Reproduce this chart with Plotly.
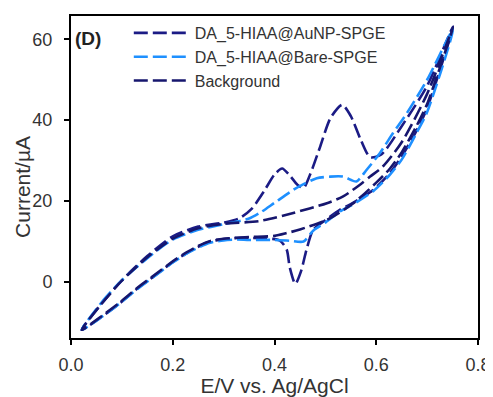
import plotly.graph_objects as go

# ---- data (E in V, I in µA), forward scan then reverse scan ----
auNP_E = [0.021, 0.06, 0.10, 0.15, 0.20, 0.25, 0.30, 0.33, 0.355, 0.38, 0.40, 0.415, 0.43, 0.445, 0.457,
          0.47, 0.49, 0.51, 0.533, 0.55, 0.57, 0.588, 0.61, 0.65, 0.70, 0.751,
          0.70, 0.68, 0.65, 0.627, 0.594, 0.55, 0.529, 0.50, 0.476, 0.463, 0.452, 0.441, 0.43, 0.424, 0.41,
          0.38, 0.35, 0.326, 0.30, 0.273, 0.25, 0.227, 0.20, 0.162, 0.13, 0.096, 0.06, 0.021]
auNP_I = [-12.0, -5.5, 0.3, 6.3, 11.2, 13.6, 14.6, 15.6, 18.0, 22.5, 26.5, 28.0, 26.3, 24.0, 23.2,
          26.5, 33.5, 40.5, 43.8, 41.0, 35.0, 30.8, 31.5, 38.5, 48.5, 63.2,
          43.0, 37.6, 31.0, 26.9, 22.7, 19.2, 17.8, 15.2, 12.8, 7.9, 2.5, -0.6, 3.5, 7.9, 10.2,
          10.7, 10.8, 10.8, 10.5, 9.9, 8.6, 7.0, 4.8, 1.2, -1.8, -5.4, -8.8, -12.0]

bare_E = [0.021, 0.06, 0.10, 0.15, 0.20, 0.25, 0.30, 0.35, 0.371, 0.40, 0.437, 0.46, 0.483, 0.51, 0.535,
          0.561, 0.58, 0.607, 0.633, 0.66, 0.70, 0.751,
          0.70, 0.68, 0.65, 0.627, 0.594, 0.55, 0.529, 0.50, 0.476, 0.457, 0.43, 0.40,
          0.35, 0.326, 0.30, 0.273, 0.25, 0.227, 0.20, 0.162, 0.13, 0.096, 0.06, 0.021]
bare_I = [-12.0, -5.2, 0.3, 5.8, 10.4, 12.8, 14.2, 15.6, 17.0, 19.5, 22.7, 24.3, 25.6, 26.0, 26.0,
          24.8, 27.5, 31.8, 36.8, 41.7, 50.0, 62.5,
          42.0, 37.0, 30.2, 26.5, 22.4, 18.8, 17.4, 14.6, 12.6, 9.9, 10.1, 10.3,
          10.3, 10.4, 10.2, 9.6, 8.4, 6.9, 4.7, 1.1, -1.9, -5.4, -8.8, -12.0]

bkg_E = [0.021, 0.06, 0.10, 0.15, 0.20, 0.25, 0.30, 0.371, 0.437, 0.503, 0.535, 0.568, 0.588, 0.613,
         0.65, 0.70, 0.751,
         0.70, 0.679, 0.65, 0.627, 0.60, 0.555, 0.503, 0.45, 0.424, 0.40, 0.35, 0.30, 0.273, 0.25,
         0.227, 0.20, 0.162, 0.13, 0.096, 0.06, 0.021]
bkg_I = [-12.0, -5.5, 0.2, 6.0, 10.6, 13.2, 14.3, 15.0, 17.0, 19.4, 21.1, 24.0, 26.0, 28.5,
         34.5, 46.5, 63.0,
         44.0, 38.5, 32.0, 28.0, 24.5, 19.4, 15.3, 12.9, 12.0, 11.3, 11.0, 10.6, 10.0, 8.8,
         7.2, 5.0, 1.4, -1.6, -5.2, -8.6, -12.0]

series_names = ["DA_5-HIAA@AuNP-SPGE", "DA_5-HIAA@Bare-SPGE", "Background"]
x_ticks = [0.0, 0.2, 0.4, 0.6, 0.8]
x_tick_labels = ["0.0", "0.2", "0.4", "0.6", "0.8"]
y_ticks = [0, 20, 40, 60]

navy = "#1b1b85"
light = "#1e90ff"
navy2 = "#16166e"

fig = go.Figure()
for E, I, name, col in [(auNP_E, auNP_I, series_names[0], navy),
                        (bare_E, bare_I, series_names[1], light),
                        (bkg_E, bkg_I, series_names[2], navy2)]:
    fig.add_trace(go.Scatter(
        x=E, y=I, name=name, mode="lines",
        line=dict(color=col, width=2.6, dash="14px,5px", shape="spline", smoothing=0.7),
    ))

axis_common = dict(
    showline=True, linecolor="black", linewidth=2, mirror=True,
    ticks="outside", ticklen=5, tickwidth=2, tickcolor="black",
    showgrid=False, zeroline=False, automargin=False,
    tickfont=dict(family="Liberation Sans, Arial, sans-serif", size=18, color="#333"),
)

fig.update_layout(
    width=485, height=389,
    margin=dict(l=63, r=15, t=8, b=59),
    paper_bgcolor="white", plot_bgcolor="white",
    font=dict(family="Liberation Sans, Arial, sans-serif", color="#333"),
    xaxis=dict(range=[0, 0.8], tickvals=x_ticks, ticktext=x_tick_labels, ticklabelstandoff=4,
               title=dict(text="E/V vs. Ag/AgCl", font=dict(size=21), standoff=9), **axis_common),
    yaxis=dict(range=[-14, 65.8], tickvals=y_ticks, ticklabelstandoff=8, **axis_common),
    showlegend=True,
    legend=dict(x=0.142, y=1.0, xanchor="left", yanchor="top",
                bgcolor="rgba(0,0,0,0)", font=dict(size=16, color="#333"),
                itemwidth=56, tracegroupgap=0),
    annotations=[
        dict(text="<b>(D)</b>", xref="paper", yref="paper", x=0.005, y=0.97,
             xanchor="left", yanchor="top", showarrow=False,
             font=dict(size=19, color="#222")),
        dict(text="Current/µA", xref="paper", yref="paper", x=-0.118, y=0.469,
             xanchor="center", yanchor="middle", textangle=-90, showarrow=False,
             font=dict(size=21, color="#333")),
    ],
)

fig.write_html("out.html")
